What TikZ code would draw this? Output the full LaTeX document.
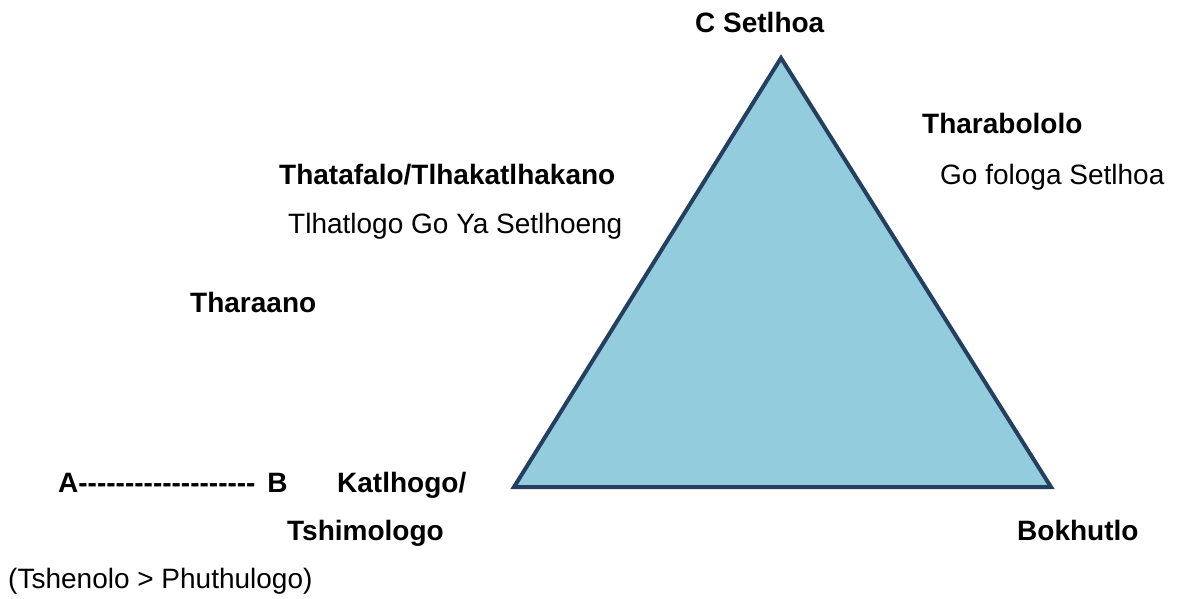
\documentclass[tikz,border=0pt]{standalone}
\usepackage{fontspec}
\setmainfont{Liberation Sans}
\definecolor{trifill}{HTML}{93CDDD}
\definecolor{triline}{HTML}{243F60}
\newcommand\hy{-\kern0pt}
\begin{document}
\begin{tikzpicture}[x=1pt,y=-1pt,
  lbl/.style={anchor=base west,inner sep=0pt,font=\fontsize{28}{30}\selectfont\bfseries},
  txt/.style={anchor=base west,inner sep=0pt,font=\fontsize{28}{30}\selectfont}]
\useasboundingbox (0,0) rectangle (1184,598);
\coordinate (apex) at (781,58);
\coordinate (bl) at (514,487);
\coordinate (br) at (1051,487);
\draw[triline,fill=trifill,line width=4pt,line join=miter] (apex) -- (br) -- (bl) -- cycle;
\node[lbl] (c) at (695,32) {C Setlhoa};
\node[lbl] (thara) at (922,133) {Tharabololo};
\node[txt] (go) at (940,184) {Go fologa Setlhoa};
\node[lbl] (thata) at (279,184) {Thatafalo/Tlhakatlhakano};
\node[txt] (tlh) at (288,233) {Tlhatlogo Go Ya Setlhoeng};
\node[lbl] (tharaano) at (190,312) {Tharaano};
\node[lbl] (ab) at (58,492) {A\hy\hy\hy\hy\hy\hy\hy\hy\hy\hy\hy\hy\hy\hy\hy\hy\hy\hy\hy\kern4pt{} B};
\node[lbl] (kat) at (337,492) {Katlhogo/};
\node[lbl] (tsh) at (287,540) {Tshimologo};
\node[lbl] (bok) at (1017,540) {Bokhutlo};
\node[txt] (phu) at (8,588) {(Tshenolo > Phuthulogo)};
\end{tikzpicture}
\end{document}
